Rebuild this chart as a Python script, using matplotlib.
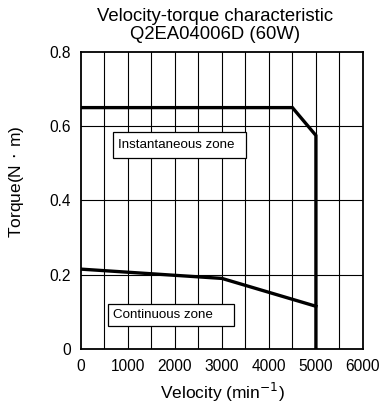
import matplotlib
matplotlib.use("Agg")
import matplotlib.pyplot as plt
from matplotlib.patches import Rectangle

plt.rcParams['font.family'] = ['Liberation Sans', 'DejaVu Sans']

inst_x = [0, 4500, 5000, 5000]
inst_y = [0.65, 0.65, 0.575, 0.0]
cont_x = [0, 3000, 5000]
cont_y = [0.215, 0.19, 0.115]
xticks = [0, 1000, 2000, 3000, 4000, 5000, 6000]
yticks = [0, 0.2, 0.4, 0.6, 0.8]
ytick_labels = ['0', '0.2', '0.4', '0.6', '0.8']
zone_labels = ['Instantaneous zone', 'Continuous zone']

fig = plt.figure(figsize=(3.82, 4.12), dpi=100)
ax = fig.add_axes([0.212, 0.153, 0.738, 0.721])
ax.set_xlim(0, 6000)
ax.set_ylim(0, 0.8)

for xv in range(500, 6000, 500):
    ax.axvline(xv, color='black', lw=0.8, zorder=1)
for yv in [0.2, 0.4, 0.6]:
    ax.axhline(yv, color='black', lw=0.8, zorder=1)

ax.plot(inst_x, inst_y, color='black', lw=2.4, zorder=3, solid_joinstyle='miter')
ax.plot(cont_x, cont_y, color='black', lw=2.4, zorder=3)

# label boxes (x0, y0, x1, y1) in data units
boxes = [(681, 0.5145, 3511, 0.5845), (574, 0.0628, 3255, 0.1204)]
for (x0, y0, x1, y1), lab in zip(boxes, zone_labels):
    ax.add_patch(Rectangle((x0, y0), x1 - x0, y1 - y0, fc='white', ec='black', lw=0.9, zorder=4))
    ax.text(x0 + 115, (y0 + y1) / 2, lab, fontsize=9.6, va='center', ha='left', zorder=5)

ax.set_xticks(xticks)
ax.set_yticks(yticks)
ax.set_yticklabels(ytick_labels)
ax.tick_params(axis='both', length=0, labelsize=11.2)
ax.tick_params(axis='x', pad=7)
ax.tick_params(axis='y', pad=7)
for s in ax.spines.values():
    s.set_linewidth(1.3)

ax.set_xlabel('Velocity (min$^{-1}$)', fontsize=12.5, labelpad=5)
ax.set_ylabel('Torque(N$\\,\\cdot\\,$m)', fontsize=12.5, va='center')
ax.yaxis.set_label_coords(-0.229, 0.562)
ax.set_title('Velocity-torque characteristic\nQ2EA04006D (60W)', fontsize=13.3, pad=9,
             linespacing=1.1, x=0.475)

fig.savefig('out.png', dpi=100)
